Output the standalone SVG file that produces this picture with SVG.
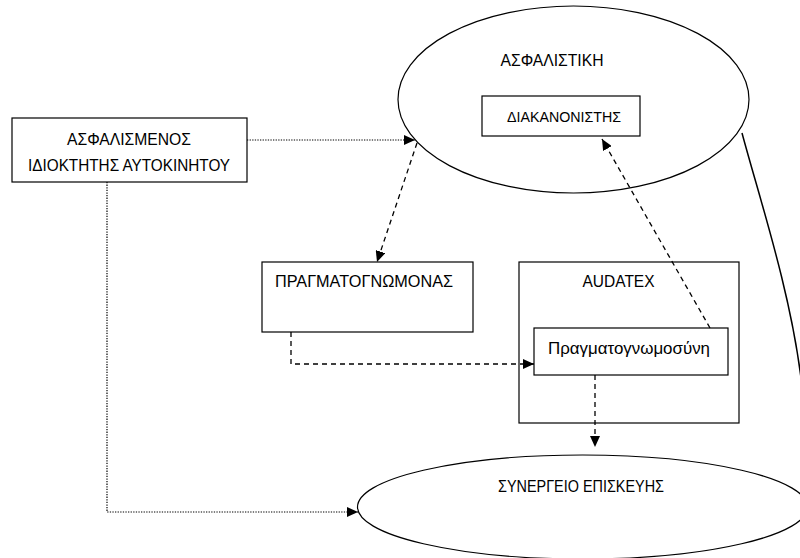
<svg xmlns="http://www.w3.org/2000/svg" width="800" height="558" viewBox="0 0 800 558">
<style>
.box{fill:#fff;stroke:#000;stroke-width:1.2}
.ell{fill:#fff;stroke:#000;stroke-width:1.2}
text{font-family:"Liberation Sans",Arial,sans-serif;font-size:16px;fill:#000}
.sm{font-size:15px}
.dash{fill:none;stroke:#000;stroke-width:1.3;stroke-dasharray:5 4}
.dot{fill:none;stroke:#000;stroke-width:1.2;stroke-dasharray:1.3 1.3}
.solid{fill:none;stroke:#000;stroke-width:1.5}
</style>
<defs>
<marker id="ah" markerUnits="userSpaceOnUse" markerWidth="12" markerHeight="10" refX="11" refY="5" orient="auto">
<path d="M0,0 L11,5 L0,10 Z" fill="#000"/>
</marker>
</defs>
<rect width="800" height="558" fill="#fff"/>
<g id="asfalistiki">
<ellipse class="ell" cx="573.5" cy="99.5" rx="175.5" ry="93.5"/>
<text x="552" y="66" text-anchor="middle" textLength="103" lengthAdjust="spacingAndGlyphs">ΑΣΦΑΛΙΣΤΙΚΗ</text>
</g>
<g id="diakanonistis">
<rect class="box" x="482" y="96" width="158" height="40"/>
<text class="sm" x="564" y="122" text-anchor="middle" textLength="114" lengthAdjust="spacingAndGlyphs">ΔΙΑΚΑΝΟΝΙΣΤΗΣ</text>
</g>
<g id="asfalismenos">
<rect class="box" x="12" y="118" width="235" height="64"/>
<text x="129" y="145" text-anchor="middle" textLength="124" lengthAdjust="spacingAndGlyphs">ΑΣΦΑΛΙΣΜΕΝΟΣ</text>
<text x="129" y="171" text-anchor="middle" textLength="202" lengthAdjust="spacingAndGlyphs">ΙΔΙΟΚΤΗΤΗΣ ΑΥΤΟΚΙΝΗΤΟΥ</text>
</g>
<g id="pragmatognomonas">
<rect class="box" x="262" y="262" width="211" height="70"/>
<text x="275" y="287" textLength="178" lengthAdjust="spacingAndGlyphs">ΠΡΑΓΜΑΤΟΓΝΩΜΟΝΑΣ</text>
</g>
<g id="audatex">
<rect class="box" x="519" y="262" width="220" height="161"/>
<text x="618.5" y="286.5" text-anchor="middle" textLength="72" lengthAdjust="spacingAndGlyphs">AUDATEX</text>
</g>
<g id="pragmatognomosini">
<rect class="box" x="534" y="328" width="194" height="47"/>
<text x="629" y="354" text-anchor="middle" textLength="162" lengthAdjust="spacingAndGlyphs">Πραγματογνωμοσύνη</text>
</g>
<g id="synergeio">
<ellipse class="ell" cx="582.5" cy="507" rx="225" ry="52"/>
<text x="581" y="492" text-anchor="middle" textLength="166" lengthAdjust="spacingAndGlyphs">ΣΥΝΕΡΓΕΙΟ ΕΠΙΣΚΕΥΗΣ</text>
</g>
<g id="connectors">
<path class="dot" d="M247,140 L415,140" marker-end="url(#ah)"/>
<path class="dot" d="M107,182 L107,512 L358,512" marker-end="url(#ah)"/>
<path class="dash" d="M417,143 L377,262" marker-end="url(#ah)"/>
<path class="dash" d="M291,332 L291,364 L534,364" marker-end="url(#ah)"/>
<path class="dash" d="M595,375 L595,447" marker-end="url(#ah)"/>
<path class="dash" d="M710,328 L602,139" marker-end="url(#ah)"/>
<path class="solid" d="M742,133 C760,200 790,290 801,378"/>
</g>
</svg>
